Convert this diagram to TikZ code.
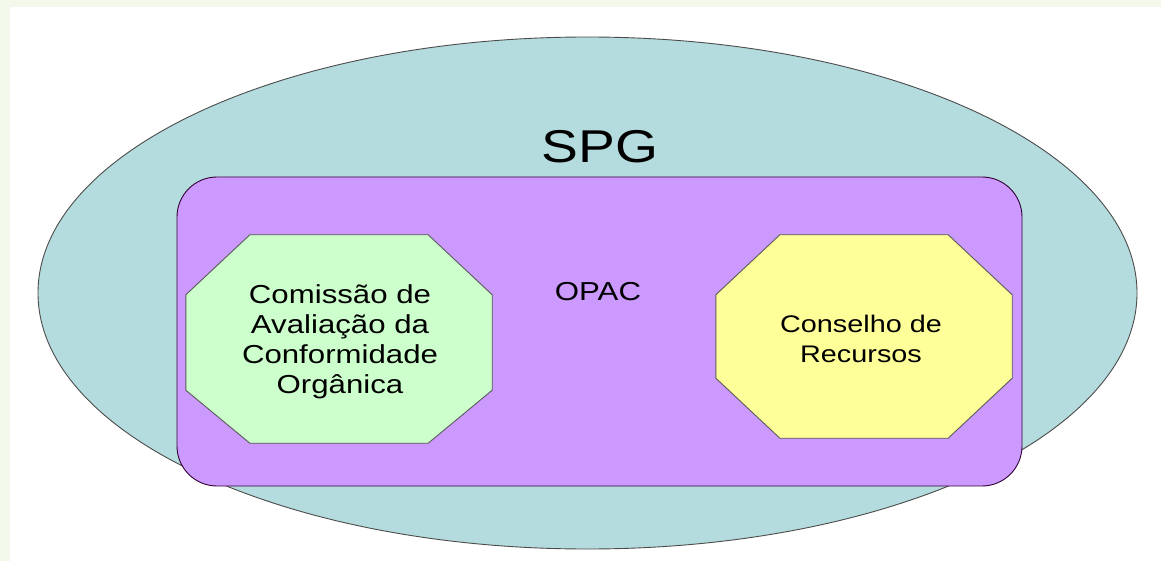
\documentclass[tikz,border=0pt]{standalone}
\usepackage{fontspec}
\setmainfont{Liberation Sans}[FakeStretch=1.2]
\usetikzlibrary{calc}
\usetikzlibrary{positioning}
\usetikzlibrary{shapes.geometric}
\definecolor{pageback}{RGB}{242,248,234}
\definecolor{spgblue}{RGB}{180,220,222}
\definecolor{opacviolet}{RGB}{204,153,255}
\definecolor{cacgreen}{RGB}{204,255,204}
\definecolor{cryellow}{RGB}{255,255,153}
\tikzstyle{spgnode} = [draw=black!70, ellipse, line width=0.9pt, minimum width=1099pt, minimum height=512pt, inner sep=0]
\tikzstyle{opacnode} = [draw=black!60!violet, rectangle, rounded corners=40pt, line width=0.9pt, minimum width=845pt, minimum height=309pt, inner sep=0]
\tikzstyle{octbox} = [rectangle, inner sep=0]
\tikzstyle{octline} = [draw=black!65, line width=0.9pt]
\tikzstyle{octtext} = [align=center, inner sep=0, font=\fontsize{24}{30}\selectfont]
\tikzstyle{labelnode} = [anchor=base, inner sep=0]

\begin{document}
\begin{tikzpicture}[x=1pt, y=-1pt]
    \fill[pageback] (0,0) rectangle (1161,561);
    \fill[white] (10,7) rectangle (1161,561);
    \useasboundingbox (0,0) rectangle (1161,561);

    \node[spgnode, fill=spgblue] (spg) at (587.5,293) {};
    \node[labelnode, font=\fontsize{46}{50}\selectfont] (spg_label) at ($(spg)+(12.5,-130)$) {SPG};

    \node[opacnode, fill=opacviolet] (opac) at ($(spg)+(12,38.5)$) {};
    \node[labelnode, font=\fontsize{26}{30}\selectfont] (opac_label) at ($(opac)+(-1.5,-31.5)$) {OPAC};

    \node[octbox, minimum width=306pt, minimum height=208pt] (cac) at ($(opac)+(-260.5,7.5)$) {};
    \filldraw[octline, fill=cacgreen] ($(cac.north west)+(64,0)$) -- ($(cac.north east)+(-64,0)$)
        -- ($(cac.north east)+(0,60)$) -- ($(cac.south east)+(0,-53)$)
        -- ($(cac.south east)+(-64,0)$) -- ($(cac.south west)+(64,0)$)
        -- ($(cac.south west)+(0,-53)$) -- ($(cac.north west)+(0,60)$) -- cycle;
    \node[octtext, font=\fontsize{26}{30}\selectfont] (cac_text) at ($(cac)+(1,3)$)
{Comissão de\\Avaliação da\\Conformidade\\Orgânica};

    \node[octbox, minimum width=296pt, minimum height=203pt] (cr) at ($(opac)+(264.5,5)$) {};
    \filldraw[octline, fill=cryellow] ($(cr.north west)+(64,0)$) -- ($(cr.north east)+(-64,0)$)
        -- ($(cr.north east)+(0,60)$) -- ($(cr.south east)+(0,-60)$)
        -- ($(cr.south east)+(-64,0)$) -- ($(cr.south west)+(64,0)$)
        -- ($(cr.south west)+(0,-60)$) -- ($(cr.north west)+(0,60)$) -- cycle;
    \node[octtext] (cr_text) at ($(cr)+(-3,2)$) {Conselho de\\Recursos};
\end{tikzpicture}
\end{document}
